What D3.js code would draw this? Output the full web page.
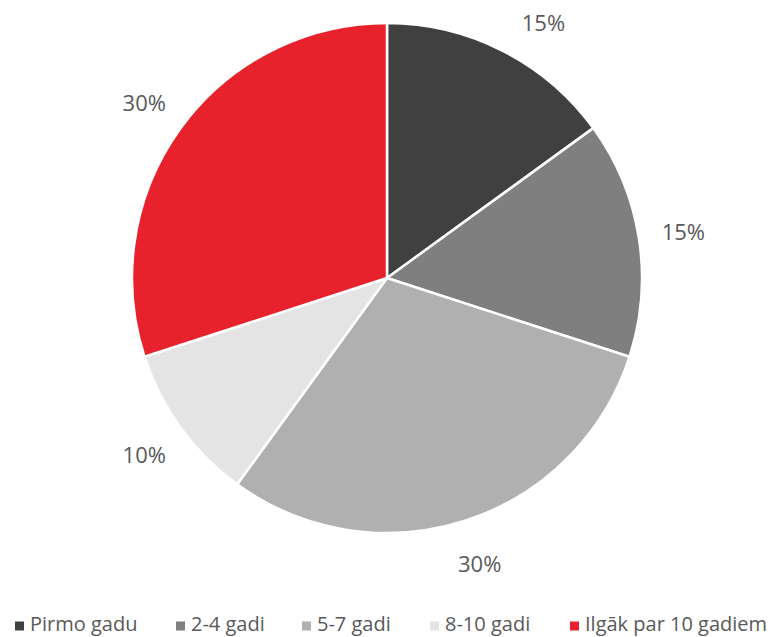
<!DOCTYPE html>
<html>
<head>
<meta charset="utf-8">
<script src="https://cdn.jsdelivr.net/npm/d3@7"></script>
<style>
  body { margin: 0; background: #fff; }
  svg text { font-family: "Open Sans", "Liberation Sans", sans-serif; fill: #595959; }
</style>
</head>
<body>
<div id="chart"></div>
<script>
var categories = ["Pirmo gadu", "2-4 gadi", "5-7 gadi", "8-10 gadi", "Ilgāk par 10 gadiem"];
var values = [15, 15, 30, 10, 30];
var colors = ["#404040", "#7f7f7f", "#b0b0b0", "#e4e4e4", "#e8222c"];
var legendX = [15, 176, 302, 430, 570];

var width = 774;
var height = 637;
var cx = 387, cy = 278;
var radius = 255;
var labelR = 300;
var topLimit = 22;

var color = d3.scaleOrdinal().domain(categories).range(colors);

var svg = d3.select("#chart")
    .append("svg")
    .attr("width", width)
    .attr("height", height);

var g = svg.append("g")
    .attr("transform", "translate(" + cx + "," + cy + ")");

var pie = d3.pie().sort(null).value(function(d) { return d.value; });
var data_ready = pie(categories.map(function(c, i) { return { key: c, value: values[i] }; }));

var arc = d3.arc().innerRadius(0).outerRadius(radius);
var labelArc = d3.arc().innerRadius(labelR).outerRadius(labelR);

g.selectAll("path")
    .data(data_ready)
    .enter().append("path")
    .attr("d", arc)
    .attr("fill", function(d) { return color(d.data.key); })
    .attr("stroke", "white")
    .style("stroke-width", "2.5px");

// keep labels inside the top edge, sliding them along the label circle
function labelPos(d) {
    var p = labelArc.centroid(d);
    var minY = topLimit - cy;
    if (p[1] < minY) {
        p[1] = minY;
        p[0] = (p[0] < 0 ? -1 : 1) * Math.sqrt(labelR * labelR - minY * minY);
    }
    return p;
}

g.selectAll("text")
    .data(data_ready)
    .enter().append("text")
    .text(function(d) { return d.data.value + "%"; })
    .attr("transform", function(d) { return "translate(" + labelPos(d) + ")"; })
    .style("text-anchor", "middle")
    .style("dominant-baseline", "central")
    .style("font-size", "22px");

var legend = svg.append("g");
var items = legend.selectAll("g")
    .data(categories)
    .enter().append("g")
    .attr("transform", function(d, i) { return "translate(" + legendX[i] + ",626)"; });

items.append("rect")
    .attr("x", 0).attr("y", -4.5)
    .attr("width", 9).attr("height", 9)
    .attr("fill", function(d) { return color(d); });

items.append("text")
    .attr("x", 15)
    .attr("y", 5)
    .style("font-size", "20px")
    .text(function(d) { return d; });
</script>
</body>
</html>
